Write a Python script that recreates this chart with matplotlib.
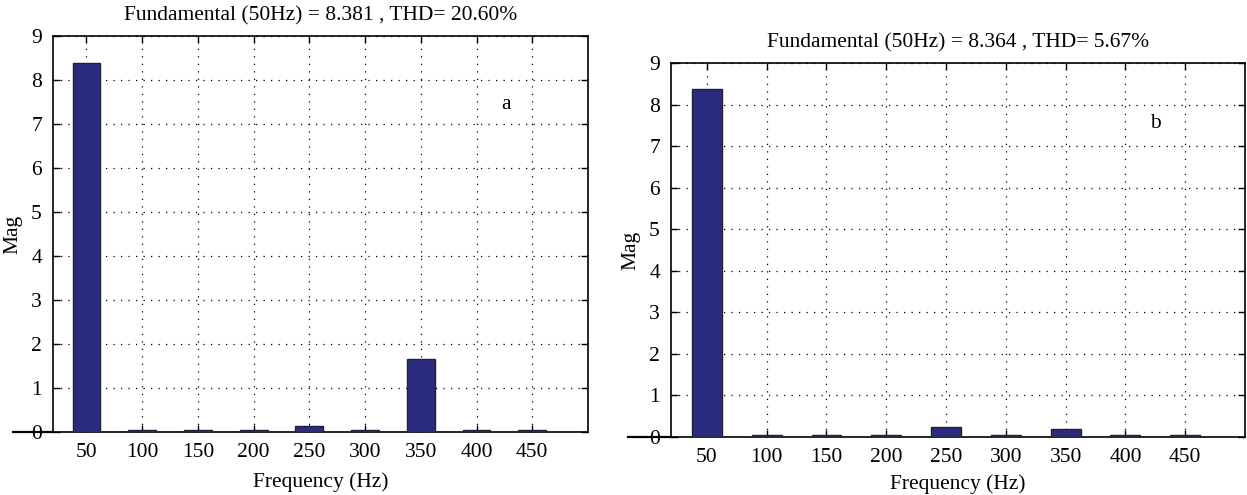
import matplotlib
matplotlib.use("Agg")
import matplotlib.pyplot as plt
import numpy as np

plt.rcParams["font.family"] = ["Liberation Serif", "DejaVu Serif"]

freqs = [50, 100, 150, 200, 250, 300, 350, 400, 450]
mag_a = [8.381, 0.05, 0.05, 0.05, 0.14, 0.05, 1.66, 0.05, 0.05]
mag_b = [8.364, 0.04, 0.04, 0.04, 0.23, 0.04, 0.19, 0.04, 0.04]
title_a = "Fundamental (50Hz) = 8.381 , THD= 20.60%"
title_b = "Fundamental (50Hz) = 8.364 , THD= 5.67%"
yticks = list(range(10))

BAR_COLOR = "#2b2b80"
W, H = 1247, 495


def draw_panel(ax, values, title, tag, tag_xy, title_pad, xlabel_pad):
    ax.bar(freqs, values, width=25, color=BAR_COLOR, edgecolor="#222222", linewidth=1.0, zorder=3)
    ax.set_xlim(20, 500)
    ax.set_ylim(0, 9)
    ax.set_xticks(freqs)
    ax.set_yticks(yticks)
    ax.grid(True, color="black", linestyle=(0, (1, 5)), linewidth=0.9, zorder=0)
    ax.tick_params(direction="in", length=5, width=1, top=True, right=True, labelsize=15.5, pad=8)
    for side in ax.spines.values():
        side.set_linewidth(1.2)
    ax.set_xlabel("Frequency (Hz)", fontsize=15.5, labelpad=xlabel_pad)
    ax.set_ylabel("Mag", fontsize=15.5, labelpad=6)
    ax.set_title(title, fontsize=15.5, pad=title_pad)
    ax.text(tag_xy[0], tag_xy[1], tag, fontsize=15.5, ha="center", va="center")
    # baseline stub sticking out to the left of the axis
    ax.plot([-0.075, 0], [0, 0], transform=ax.get_yaxis_transform(), color="black",
            linewidth=1.6, clip_on=False, zorder=4)


fig = plt.figure(figsize=(W / 100, H / 100), dpi=100)
ax_a = fig.add_axes([53 / W, 1 - 432 / H, (588 - 53) / W, (432 - 36) / H])
ax_b = fig.add_axes([671 / W, 1 - 437 / H, (1245 - 671) / W, (437 - 63) / H])

draw_panel(ax_a, mag_a, title_a, "a", (426, 7.45), 11, 7)
draw_panel(ax_b, mag_b, title_b, "b", (425, 7.55), 11, 5)

fig.savefig("out.png", dpi=100)
